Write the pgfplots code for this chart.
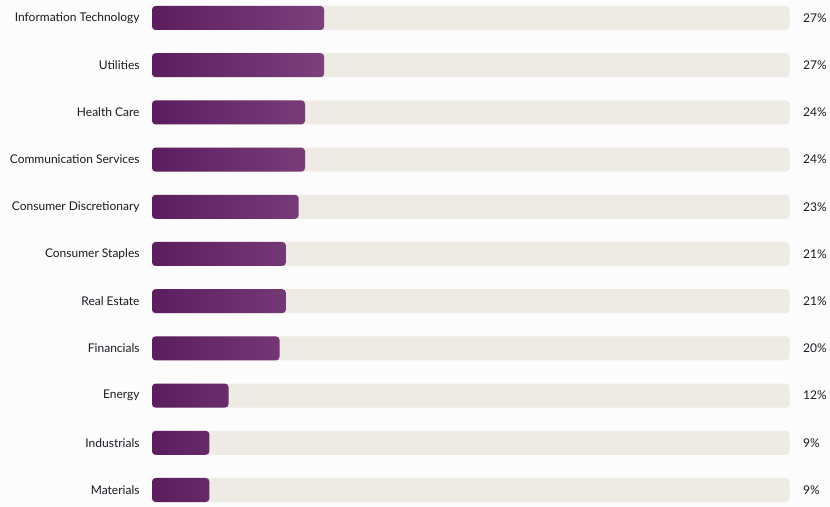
\documentclass[border=0pt]{standalone}
\usepackage{pgfplots}
\pgfplotsset{compat=1.18}
\usepackage{fontspec}
\setmainfont{Lato}
\definecolor{bg}{HTML}{FCFCFC}
\definecolor{track}{HTML}{EEEAE4}
\definecolor{barL}{HTML}{5C1D5E}
\definecolor{barR}{HTML}{7C407D}
\definecolor{txt}{HTML}{1A1A22}
\pgfplotstableread{
y val track
10 27 100
9 27 100
8 24 100
7 24 100
6 23 100
5 21 100
4 21 100
3 20 100
2 12 100
1 9 100
0 9 100
}\datatable
\begin{document}
\begin{tikzpicture}
\fill[bg] (0,0) rectangle (830bp,507bp);
\begin{axis}[
  at={(152bp,17bp)}, anchor=south west,
  scale only axis, width=637.5bp, height=472bp,
  xmin=0, xmax=100, ymin=0, ymax=10,
  clip=false,
  axis line style={draw=none},
  tick style={draw=none},
  xtick=\empty,
  ytick={0,...,10},
  yticklabels={Materials,Industrials,Energy,Financials,Real Estate,Consumer Staples,Consumer Discretionary,Communication Services,Health Care,Utilities,Information Technology},
  yticklabel style={font=\fontsize{12bp}{14bp}\selectfont, text=txt, anchor=east, inner sep=0pt, xshift=-8bp},
  xbar, bar width=24bp, bar shift=0pt,
  /pgf/number format/assume math mode=true,
]
\addplot[draw=none, fill=track, rounded corners=3.5bp,
  nodes near coords={\pgfmathprintnumber{\pgfplotspointmeta}\%},
  point meta=explicit,
  every node near coord/.append style={font=\fontsize{12bp}{14bp}\selectfont, text=txt, anchor=west, inner sep=0pt, xshift=13.5bp}]
  table[x=track, y=y, meta=val]{\datatable};
\addplot[draw=none, left color=barL, right color=barR, rounded corners=3.5bp]
  table[x=val, y=y]{\datatable};
\end{axis}
\end{tikzpicture}
\end{document}
